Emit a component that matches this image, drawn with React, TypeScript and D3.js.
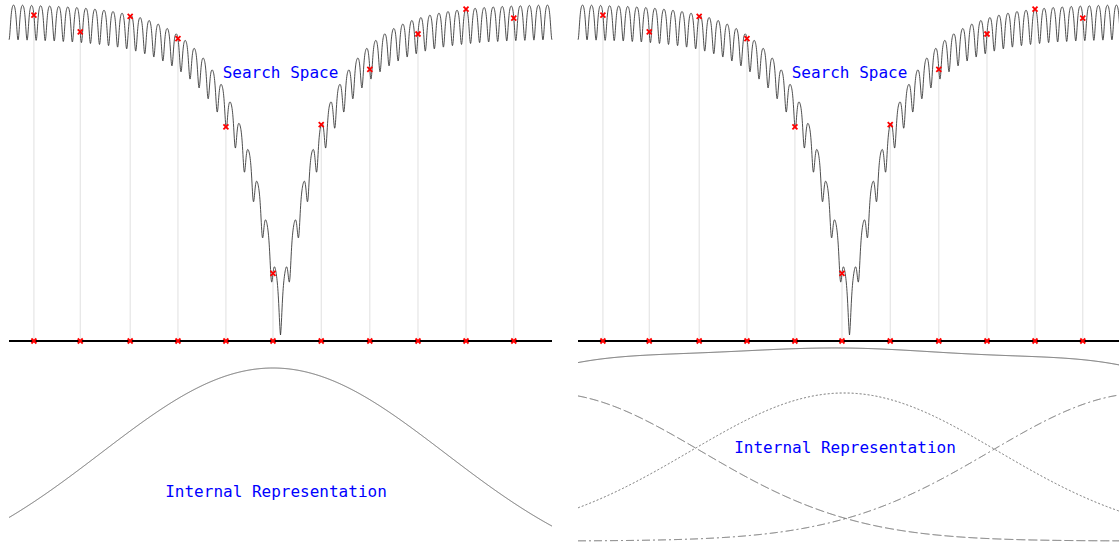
import React, { useEffect, useRef } from 'react';
import * as d3 from 'd3';

// search space is the 1-D Ackley function, x in [-30, 30]
const X_DOMAIN: [number, number] = [-30, 30];
const ACKLEY_A = 20;
const ACKLEY_B = 0.2;
const F_DOMAIN: [number, number] = [0, 22.3];

// sampled candidate solutions (same in both panels)
const SAMPLE_X = [-27.247, -22.128, -16.61, -11.33, -6.032, -0.83, 4.5, 9.87, 15.193, 20.5, 25.777];

// left: single gaussian model
const SINGLE_MEAN = -0.83;
const SINGLE_SIGMA = 19;

// right: mixture of three gaussians + their sum
const MIX_MEANS = [-33.4, -0.6, 32.6];
const MIX_SIGMA = 17;
const MIX_DASHES = ['9,3', '2,2', '8,3,2,3'];

const ackley = (x: number) =>
  -ACKLEY_A * Math.exp(-ACKLEY_B * Math.abs(x)) - Math.exp(Math.cos(2 * Math.PI * x)) + ACKLEY_A + Math.E;

const gauss = (x: number, mu: number, s: number) => Math.exp(-((x - mu) ** 2) / (2 * s * s));

const W = 1119;
const H = 542;
const PANEL_W = 543;
const PANELS = [
  { x0: 9, lowRange: [584, 368] as [number, number], labelX: 276, labelY: 497 },
  { x0: 578, lowRange: [541, 393] as [number, number], labelX: 845, labelY: 453 },
];

export default function App() {
  const svgRef = useRef<SVGSVGElement>(null);

  useEffect(() => {
    if (!svgRef.current) return;
    const svg = d3.select(svgRef.current);
    svg.selectAll('*').remove();

    const xs = d3.range(0, 2401).map((i) => X_DOMAIN[0] + (i / 2400) * (X_DOMAIN[1] - X_DOMAIN[0]));

    PANELS.forEach((p, pi) => {
      const g = svg.append('g').attr('transform', `translate(${p.x0},0)`);
      const x = d3.scaleLinear().domain(X_DOMAIN).range([0, PANEL_W]);
      const y = d3.scaleLinear().domain(F_DOMAIN).range([335, 5]);
      const axisY = 341;

      // guide lines from axis up to samples
      g.selectAll('line.guide')
        .data(SAMPLE_X)
        .join('line')
        .attr('class', 'guide')
        .attr('x1', (d) => x(d))
        .attr('x2', (d) => x(d))
        .attr('y1', axisY)
        .attr('y2', (d) => y(ackley(d)))
        .attr('stroke', '#e0e0e0')
        .attr('stroke-width', 1);

      const line = d3
        .line<number>()
        .x((d) => x(d))
        .y((d) => y(ackley(d)));

      g.append('path')
        .attr('d', line(xs))
        .attr('fill', 'none')
        .attr('stroke', '#3a3a3a')
        .attr('stroke-width', 0.9);

      g.append('line')
        .attr('x1', 0)
        .attr('x2', PANEL_W)
        .attr('y1', axisY)
        .attr('y2', axisY)
        .attr('stroke', '#000')
        .attr('stroke-width', 2);

      const cross = (px: number, py: number) => {
        g.append('path')
          .attr('d', `M${px - 2.5},${py - 2.5}L${px + 2.5},${py + 2.5}M${px - 2.5},${py + 2.5}L${px + 2.5},${py - 2.5}`)
          .attr('stroke', '#ff0000')
          .attr('stroke-width', 1.8);
      };
      SAMPLE_X.forEach((d) => {
        cross(x(d), y(ackley(d)));
        cross(x(d), axisY);
      });

      g.append('text')
        .attr('x', x(0))
        .attr('y', 78)
        .attr('text-anchor', 'middle')
        .attr('fill', '#0000ff')
        .attr('font-family', 'DejaVu Sans Mono, monospace')
        .attr('font-size', '16px')
        .text('Search Space');

      // internal representation
      const yLow = d3.scaleLinear().domain([0, 1]).range(p.lowRange);
      if (pi === 0) {
        g.append('path')
          .attr(
            'd',
            d3
              .line<number>()
              .x((d) => x(d))
              .y((d) => yLow(gauss(d, SINGLE_MEAN, SINGLE_SIGMA)))(xs)
          )
          .attr('fill', 'none')
          .attr('stroke', '#555')
          .attr('stroke-width', 0.9);
      } else {
        MIX_MEANS.forEach((mu, i) => {
          g.append('path')
            .attr(
              'd',
              d3
                .line<number>()
                .x((d) => x(d))
                .y((d) => yLow(gauss(d, mu, MIX_SIGMA)))(xs)
            )
            .attr('fill', 'none')
            .attr('stroke', '#555')
            .attr('stroke-width', 0.9)
            .attr('stroke-dasharray', MIX_DASHES[i]);
        });
        g.append('path')
          .attr(
            'd',
            d3
              .line<number>()
              .x((d) => x(d))
              .y((d) => yLow(d3.sum(MIX_MEANS, (mu) => gauss(d, mu, MIX_SIGMA))))(xs)
          )
          .attr('fill', 'none')
          .attr('stroke', '#555')
          .attr('stroke-width', 1);
      }

      g.append('text')
        .attr('x', p.labelX - p.x0)
        .attr('y', p.labelY)
        .attr('text-anchor', 'middle')
        .attr('fill', '#0000ff')
        .attr('font-family', 'DejaVu Sans Mono, monospace')
        .attr('font-size', '16px')
        .text('Internal Representation');
    });
  }, []);

  return (
    <div style={{ position: 'fixed', left: 0, top: 0, width: W, height: H, overflow: 'hidden', background: '#fff' }}>
      <svg ref={svgRef} width={W} height={H} style={{ display: 'block' }} />
    </div>
  );
}
